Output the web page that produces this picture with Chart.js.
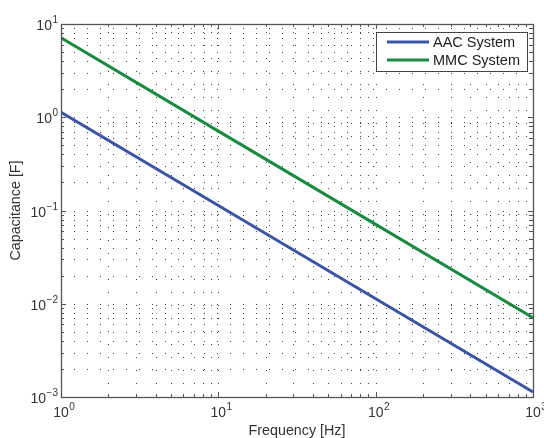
<!DOCTYPE html>
<html>
<head>
<meta charset="utf-8">
<script src="https://cdn.jsdelivr.net/npm/chart.js@4.4.1/dist/chart.umd.min.js"></script>
<style>
html,body{margin:0;padding:0;background:#fff;}
#wrap{width:544px;height:438px;}
</style>
</head>
<body>
<div id="wrap"><canvas id="c" width="544" height="438"></canvas></div>
<script>
// Data
const frequencies = [1, 10, 100, 1000];
const aacCapacitance = [1.13, 0.113, 0.0113, 0.00113];
const mmcCapacitance = [7.1, 0.71, 0.071, 0.0071];
const seriesNames = ['AAC System', 'MMC System'];
const xTickExponents = [0, 1, 2, 3];
const yTickExponents = [-3, -2, -1, 0, 1];
const xTitle = 'Frequency [Hz]';
const yTitle = 'Capacitance [F]';

const blue = '#3b55a6';
const green = '#198a3f';
const FONT = '"Liberation Sans", Arial, Helvetica, sans-serif';

function minorValues(minExp, maxExp) {
  const v = [];
  for (let e = minExp; e < maxExp; e++) {
    for (let m = 1; m <= 9; m++) v.push(m * Math.pow(10, e));
  }
  v.push(Math.pow(10, maxExp));
  return v;
}

const decorPlugin = {
  id: 'decor',
  beforeDatasetsDraw(chart) {
    const ctx = chart.ctx;
    const a = chart.chartArea;
    const xs = chart.scales.x, ys = chart.scales.y;
    ctx.save();
    // dotted grid
    ctx.strokeStyle = 'rgba(20,20,20,0.8)';
    ctx.lineWidth = 1;
    ctx.setLineDash([1, 12]);
    const xv = minorValues(xTickExponents[0], xTickExponents[xTickExponents.length - 1]);
    const yv = minorValues(yTickExponents[0], yTickExponents[yTickExponents.length - 1]);
    xv.forEach(v => {
      const px = Math.round(xs.getPixelForValue(v)) + 0.5;
      if (px <= a.left + 1 || px >= a.right - 1) return;
      ctx.beginPath(); ctx.moveTo(px, a.bottom); ctx.lineTo(px, a.top); ctx.stroke();
    });
    yv.forEach(v => {
      const py = Math.round(ys.getPixelForValue(v)) + 0.5;
      if (py <= a.top + 1 || py >= a.bottom - 1) return;
      ctx.beginPath(); ctx.moveTo(a.left, py); ctx.lineTo(a.right, py); ctx.stroke();
    });
    ctx.restore();
  },
  afterDatasetsDraw(chart) {
    const ctx = chart.ctx;
    const a = chart.chartArea;
    const xs = chart.scales.x, ys = chart.scales.y;
    ctx.save();
    ctx.setLineDash([]);
    ctx.strokeStyle = '#555';
    ctx.lineWidth = 1;
    const xv = minorValues(xTickExponents[0], xTickExponents[xTickExponents.length - 1]);
    const yv = minorValues(yTickExponents[0], yTickExponents[yTickExponents.length - 1]);
    const isMajor = v => Math.abs(Math.log10(v) - Math.round(Math.log10(v))) < 1e-9;
    ctx.beginPath();
    xv.forEach(v => {
      const px = Math.round(xs.getPixelForValue(v)) + 0.5;
      const len = isMajor(v) ? 5 : 3;
      ctx.moveTo(px, a.bottom); ctx.lineTo(px, a.bottom - len);
      ctx.moveTo(px, a.top); ctx.lineTo(px, a.top + len);
    });
    yv.forEach(v => {
      const py = Math.round(ys.getPixelForValue(v)) + 0.5;
      const len = isMajor(v) ? 5 : 3;
      ctx.moveTo(a.left, py); ctx.lineTo(a.left + len, py);
      ctx.moveTo(a.right, py); ctx.lineTo(a.right - len, py);
    });
    ctx.stroke();
    // box
    ctx.strokeStyle = '#555';
    ctx.lineWidth = 1.3;
    ctx.strokeRect(Math.round(a.left) + 0.5, Math.round(a.top) + 0.5,
                   Math.round(a.right - a.left), Math.round(a.bottom - a.top));

    // tick labels with superscripts
    ctx.fillStyle = '#333';
    ctx.textBaseline = 'alphabetic';
    xTickExponents.forEach(e => {
      const px = xs.getPixelForValue(Math.pow(10, e));
      ctx.font = '14px ' + FONT;
      const bw = ctx.measureText('10').width;
      ctx.textAlign = 'left';
      ctx.fillText('10', px - bw / 2, 417);
      ctx.font = '10px ' + FONT;
      ctx.fillText(String(e), px + bw / 2 + 0.5, 410);
    });
    yTickExponents.forEach(e => {
      const py = ys.getPixelForValue(Math.pow(10, e));
      const sup = e < 0 ? '\u2212' + Math.abs(e) : String(e);
      ctx.font = '10px ' + FONT;
      const sw = ctx.measureText(sup).width;
      ctx.font = '14px ' + FONT;
      const bw = ctx.measureText('10').width;
      const right = a.left - 3;
      ctx.textAlign = 'left';
      ctx.fillText('10', right - sw - bw - 0.5, py + 6);
      ctx.font = '10px ' + FONT;
      ctx.fillText(sup, right - sw, py - 1);
    });

    // axis titles
    ctx.font = '14.3px ' + FONT;
    ctx.textAlign = 'center';
    ctx.fillText(xTitle, (a.left + a.right) / 2, 435);
    ctx.save();
    ctx.translate(20, (a.top + a.bottom) / 2);
    ctx.rotate(-Math.PI / 2);
    ctx.textBaseline = 'alphabetic';
    ctx.fillText(yTitle, 0, 0);
    ctx.restore();

    // legend
    const lx = 376.5, ly = 32.5, lw = 151, lh = 39;
    ctx.fillStyle = '#fff';
    ctx.fillRect(lx, ly, lw, lh);
    ctx.strokeStyle = '#444';
    ctx.lineWidth = 1;
    ctx.strokeRect(lx, ly, lw, lh);
    const colors = [blue, green];
    const rows = [42, 60];
    ctx.font = '14.5px ' + FONT;
    ctx.textAlign = 'left';
    ctx.textBaseline = 'middle';
    seriesNames.forEach((n, i) => {
      ctx.strokeStyle = colors[i];
      ctx.lineWidth = 3;
      ctx.beginPath();
      ctx.moveTo(387, rows[i]); ctx.lineTo(429, rows[i]);
      ctx.stroke();
      ctx.fillStyle = '#222';
      ctx.fillText(n, 433, rows[i] + 0.5);
    });
    ctx.restore();
  }
};

const toPts = (xs, ys) => xs.map((x, i) => ({x: x, y: ys[i]}));

new Chart(document.getElementById('c'), {
  type: 'line',
  data: {
    datasets: [
      {label: seriesNames[0], data: toPts(frequencies, aacCapacitance), borderColor: blue,
       borderWidth: 3, pointRadius: 0, tension: 0, fill: false},
      {label: seriesNames[1], data: toPts(frequencies, mmcCapacitance), borderColor: green,
       borderWidth: 3, pointRadius: 0, tension: 0, fill: false}
    ]
  },
  options: {
    responsive: false,
    animation: false,
    layout: {padding: {left: 61, top: 24, right: 11, bottom: 41}},
    plugins: {legend: {display: false}, tooltip: {enabled: false}},
    scales: {
      x: {type: 'logarithmic', min: 1, max: 1000, display: false},
      y: {type: 'logarithmic', min: 0.001, max: 10, display: false}
    }
  },
  plugins: [decorPlugin]
});
</script>
</body>
</html>
